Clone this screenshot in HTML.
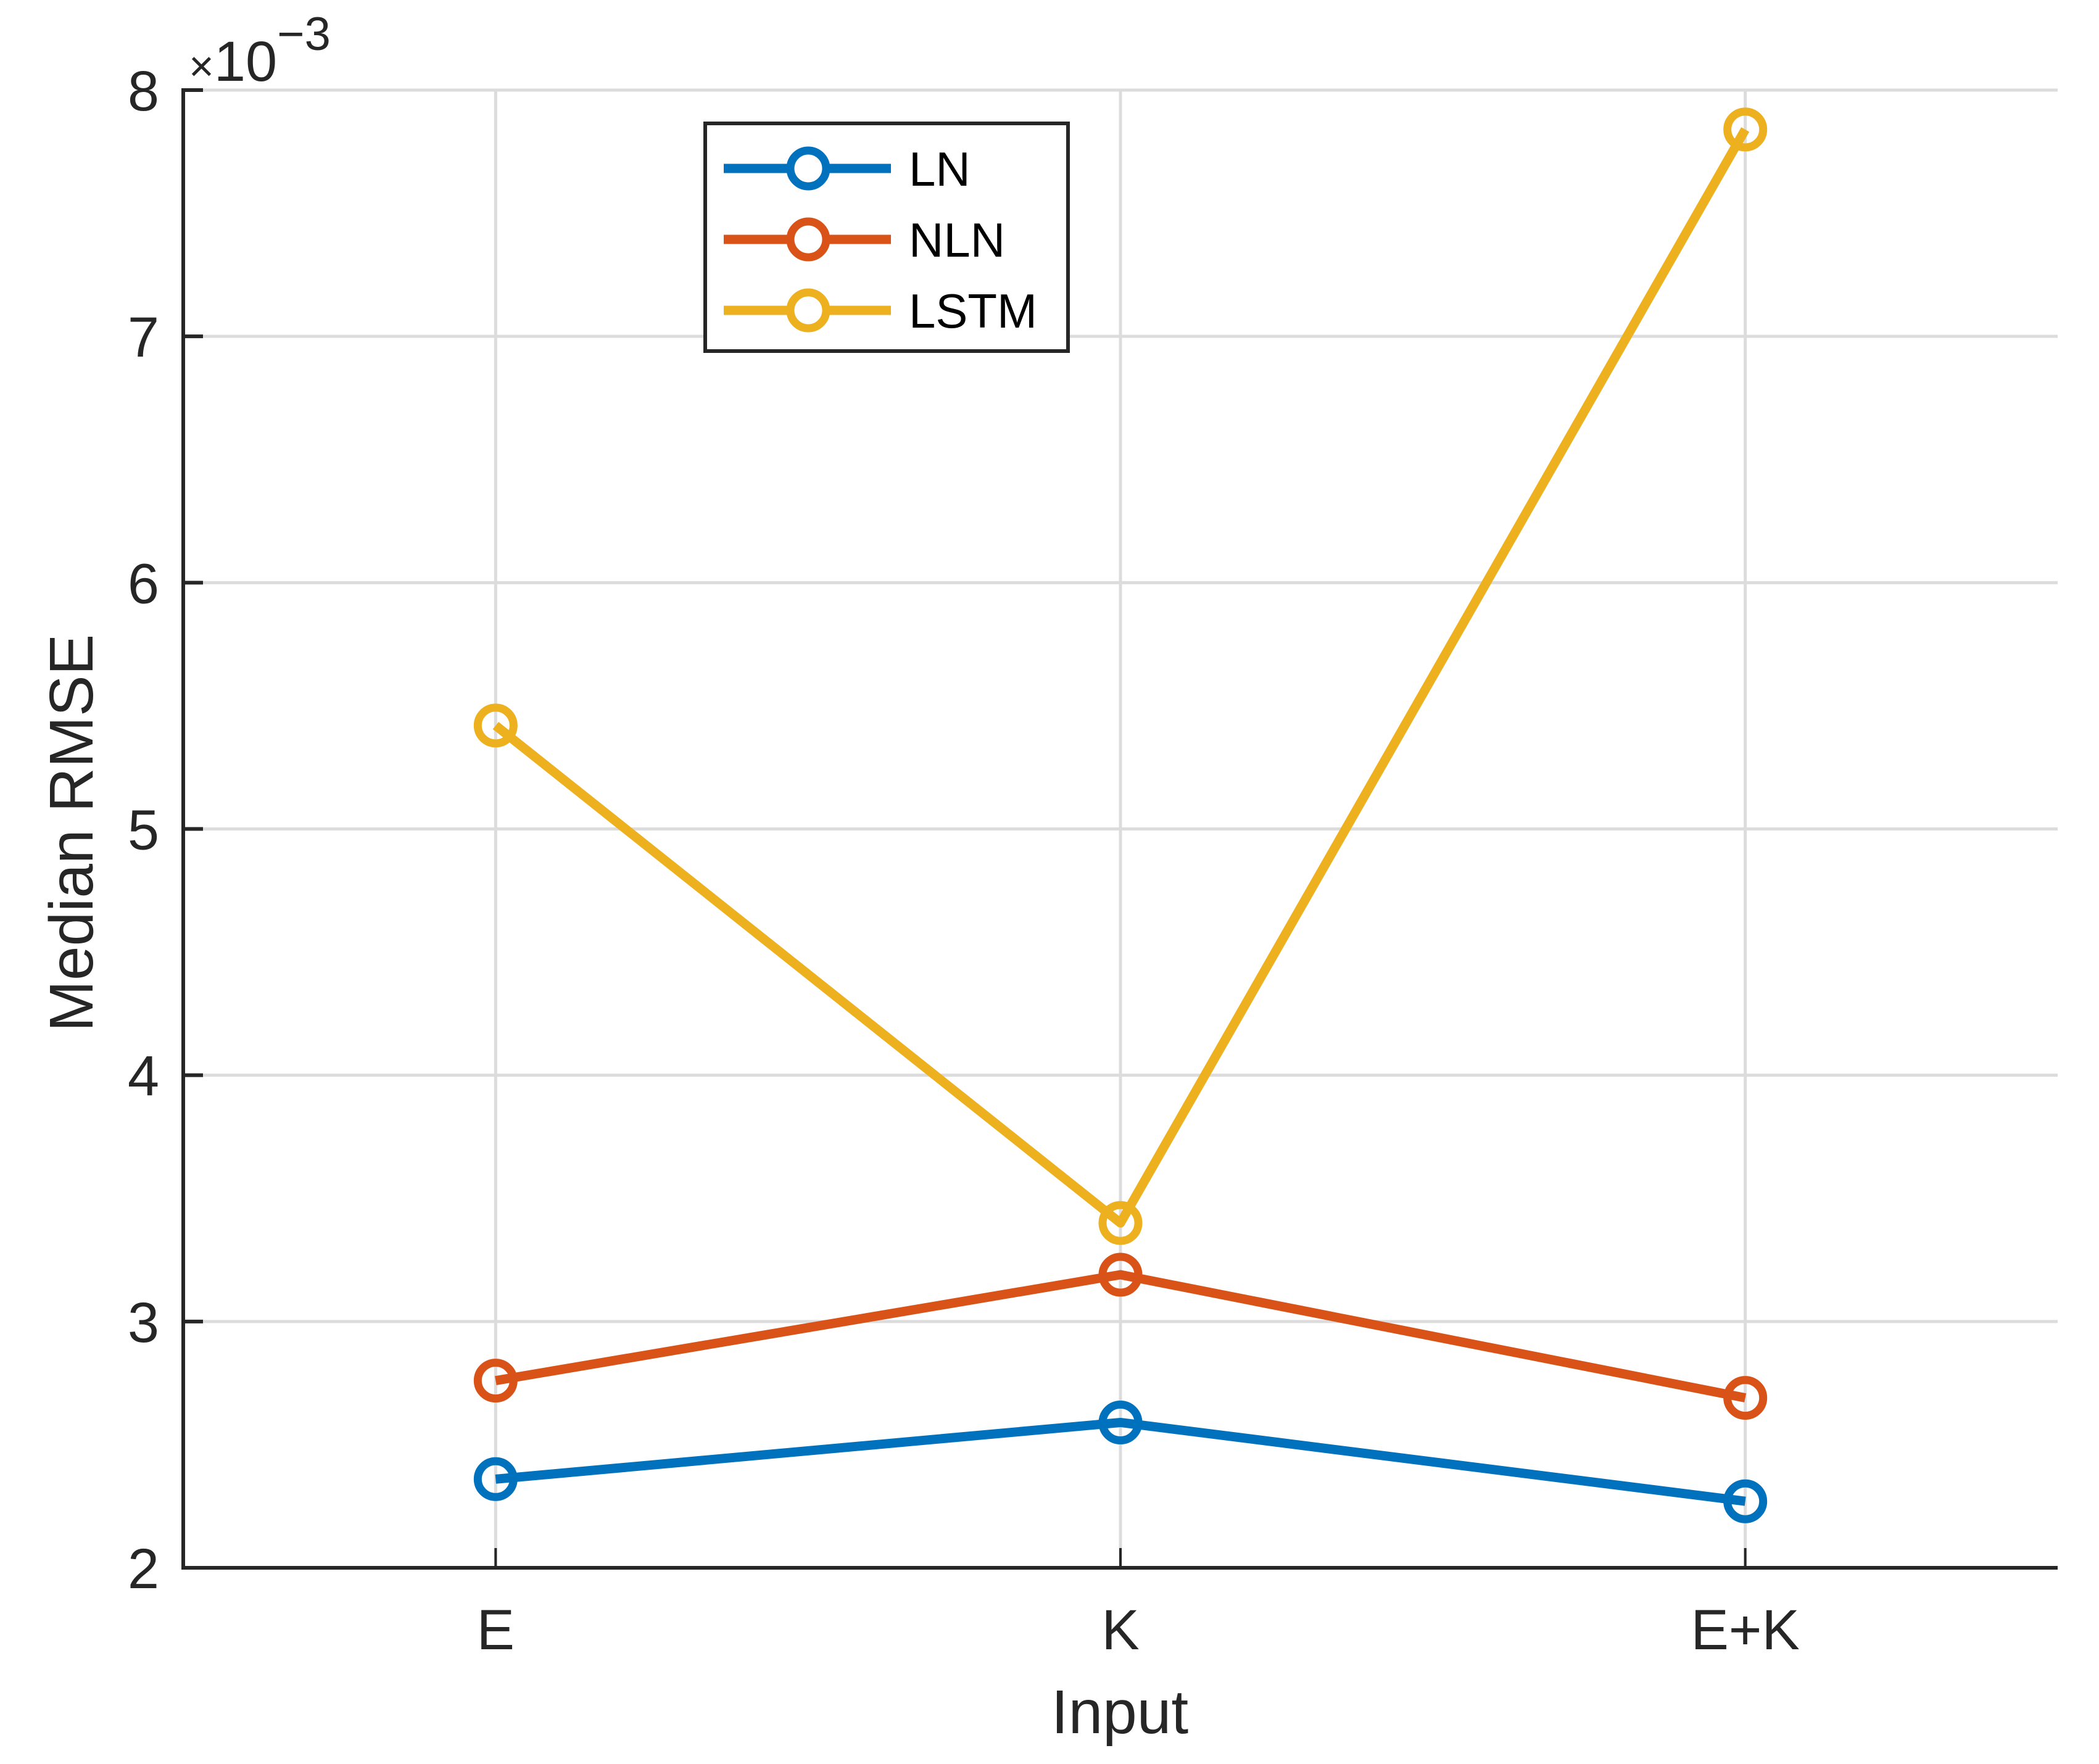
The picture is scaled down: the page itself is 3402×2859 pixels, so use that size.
<!DOCTYPE html>
<html><head><meta charset="utf-8"><style>html,body{margin:0;padding:0;background:#fff}svg{display:block}</style></head>
<body>
<svg id="chart" width="3402" height="2859" viewBox="0 0 3402 2859" xmlns="http://www.w3.org/2000/svg" font-family="Liberation Sans, Arial, sans-serif">
<rect width="3402" height="2859" fill="#fff"/>
<g id="grid"></g>
<g id="axes"></g>
<g id="series"></g>
<g id="legend"></g>
</svg>
<script>
const categories = ["E", "K", "E+K"];
const seriesNames = ["LN", "NLN", "LSTM"];
const lnValues = [2.36, 2.59, 2.27];
const nlnValues = [2.76, 3.19, 2.69];
const lstmValues = [5.42, 3.40, 7.84];
const yTicks = [2, 3, 4, 5, 6, 7, 8];
const seriesColors = ["#0072BD", "#D95319", "#EDB120"];

const NS = "http://www.w3.org/2000/svg";
const L = 297, R = 3335, T = 146, B = 2541;
const xMin = 0.5, xMax = categories.length + 0.5, yMin = 2, yMax = 8;
function xs(i) { return L + (i + 1 - xMin) / (xMax - xMin) * (R - L); }
function ys(v) { return B - (v - yMin) / (yMax - yMin) * (B - T); }
function mk(tag, attrs, parent, text) {
  const e = document.createElementNS(NS, tag);
  for (const k in attrs) e.setAttribute(k, attrs[k]);
  if (text !== undefined) e.textContent = text;
  parent.appendChild(e);
  return e;
}
const grid = document.getElementById('grid');
const axes = document.getElementById('axes');
const series = document.getElementById('series');
const legend = document.getElementById('legend');

yTicks.forEach(v => {
  const g = mk('line', {x1: L, x2: R, y1: ys(v), y2: ys(v), stroke: '#dcdcdc', 'stroke-width': 5}, grid);
  
  
});
categories.forEach((c, i) => {
  const g = mk('line', {x1: xs(i), x2: xs(i), y1: T, y2: B, stroke: '#dcdcdc', 'stroke-width': 5}, grid);
  
  
});

const ya = mk('line', {x1: L, x2: L, y1: T - 3, y2: B + 3, stroke: '#262626', 'stroke-width': 6}, axes);


const xa = mk('line', {x1: L - 3, x2: R, y1: B, y2: B, stroke: '#262626', 'stroke-width': 6}, axes);



yTicks.forEach(v => {
  const tk = mk('line', {x1: L, x2: L + 32, y1: ys(v), y2: ys(v), stroke: '#262626', 'stroke-width': 6}, axes);
  
  
  const t = mk('text', {x: 258, y: ys(v) + 33, 'text-anchor': 'end', 'font-size': 92, fill: '#262626'}, axes, String(v));
  
  
});
categories.forEach((c, i) => {
  const tk = mk('line', {x1: xs(i), x2: xs(i), y1: B, y2: B - 32, stroke: '#262626', 'stroke-width': 4}, axes);
  
  
  const t = mk('text', {x: xs(i), y: 2673, 'text-anchor': 'middle', 'font-size': 92, fill: '#262626'}, axes, c);
  
  
});

const ex = mk('text', {x: 306, y: 131, 'font-size': 92, fill: '#262626'}, axes);


ex.innerHTML = '<tspan font-size="70">×</tspan>10<tspan dy="-50" font-size="76">−3</tspan>';

const xl = mk('text', {x: 1815, y: 2809, 'text-anchor': 'middle', 'font-size': 100, fill: '#262626'}, axes, 'Input');


const yl = mk('text', {x: 0, y: 0, 'text-anchor': 'middle', 'font-size': 100, fill: '#262626', transform: 'translate(150,1350) rotate(-90)'}, axes, 'Median RMSE');



const allValues = [lnValues, nlnValues, lstmValues];
allValues.forEach((vals, s) => {
  const pts = vals.map((v, i) => xs(i) + ',' + ys(v)).join(' ');
  const pl = mk('polyline', {points: pts, fill: 'none', stroke: seriesColors[s], 'stroke-width': 15, 'stroke-linejoin': 'round'}, series);
  
  
  vals.forEach((v, i) => {
    const c = mk('circle', {cx: xs(i), cy: ys(v), r: 29, fill: 'none', stroke: seriesColors[s], 'stroke-width': 13}, series);
    
    
  });
});

const lb = mk('rect', {x: 1143, y: 200, width: 588, height: 369, fill: '#fff', stroke: '#262626', 'stroke-width': 6}, legend);


seriesNames.forEach((n, s) => {
  const y = 273 + s * 115;
  const g = mk('g', {}, legend);
  
  
  mk('line', {x1: 1173, x2: 1444, y1: y, y2: y, stroke: seriesColors[s], 'stroke-width': 15}, g);
  mk('circle', {cx: 1310, cy: y, r: 29, fill: '#fff', stroke: seriesColors[s], 'stroke-width': 13}, g);
  mk('text', {x: 1473, y: y + 28, 'font-size': 78, fill: '#000'}, g, n);
});
</script>
</body></html>
